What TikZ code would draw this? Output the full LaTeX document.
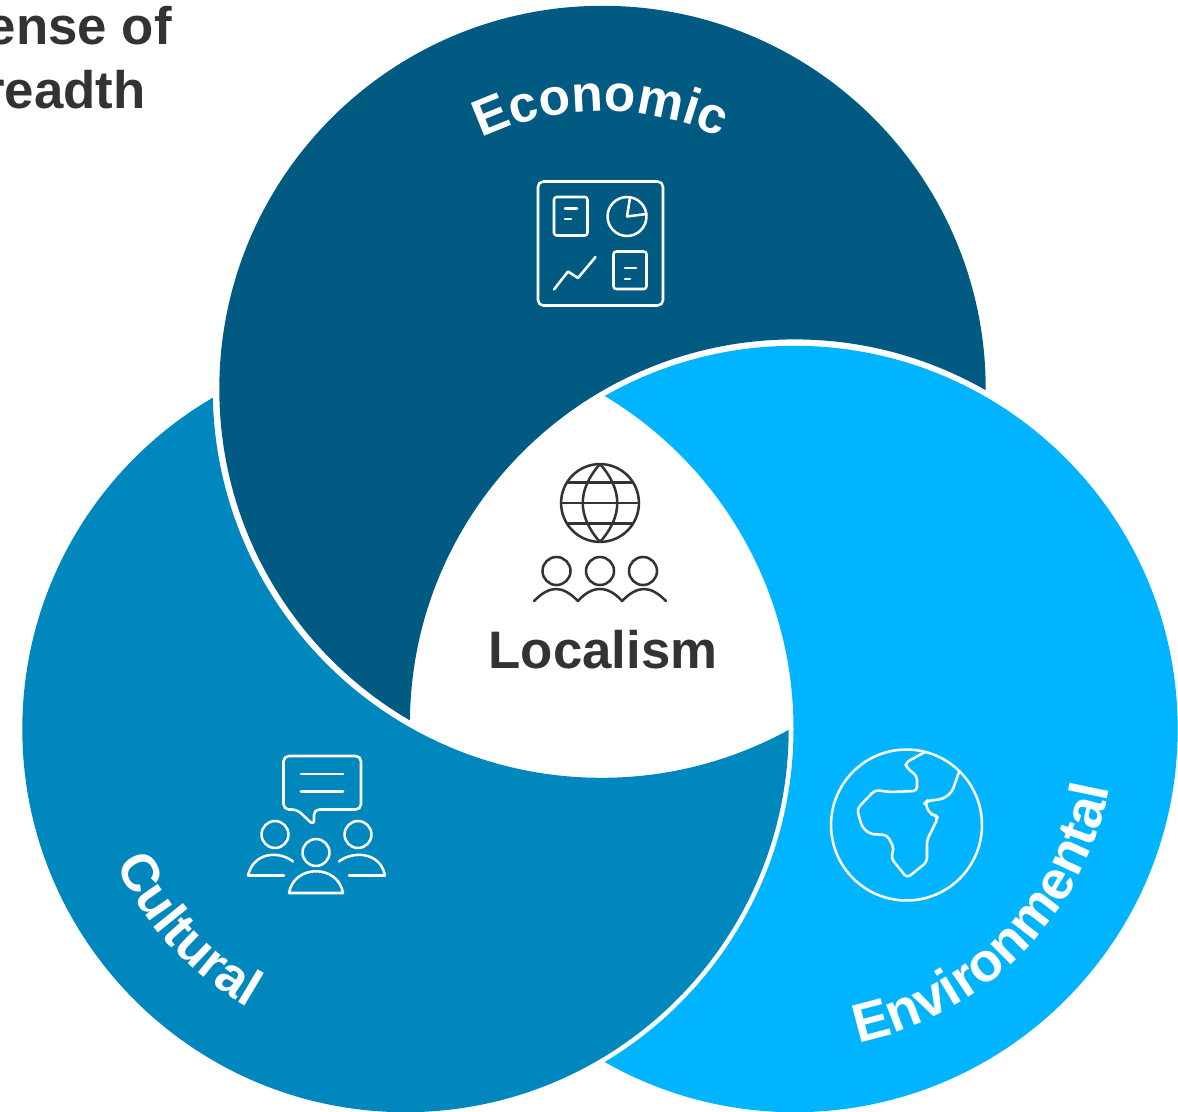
\documentclass[tikz,border=0pt]{standalone}
\usepackage{fontspec}
\setmainfont{Liberation Sans}
\usetikzlibrary{decorations.text}
\definecolor{econ}{RGB}{0,90,130}
\definecolor{cult}{RGB}{0,135,190}
\definecolor{envi}{RGB}{0,180,255}
\definecolor{ink}{RGB}{51,51,51}
\def\RR{287.4pt}
\tikzset{
 icon/.style={draw=white,line width=1.9pt,line cap=round,line join=round},
 iconk/.style={draw=ink,line width=1.9pt,line cap=round,line join=round},
 arcw/.style 2 args={decorate,decoration={text along path,text align=center,text color=white,
   text={|\fontsize{#1}{#1}\bfseries|#2}}},
 heading/.style={text=ink,font=\fontsize{39.6}{40}\bfseries,inner sep=0},
}
\begin{document}
\begin{tikzpicture}[x=.75pt,y=-.75pt]
\useasboundingbox (0,0) rectangle (1178,1112);
\coordinate (ce) at (602.5,389);
\coordinate (cc) at (405.5,729);
\coordinate (cv) at (794.5,729);
\coordinate (cvg) at (794.5,724);
\coordinate (ceg) at (601.5,389);
\begin{scope}[even odd rule]
 \clip (-10,-10) rectangle (1190,1130) (cvg) circle (288.45pt);
 \fill[econ] (ce) circle (\RR);
\end{scope}
\begin{scope}[even odd rule]
 \clip (-10,-10) rectangle (1190,1130) (ceg) circle (291.6pt);
 \fill[cult] (cc) circle (\RR);
\end{scope}
\begin{scope}[even odd rule]
 \clip (-10,-10) rectangle (1190,1130) (cc) circle (291pt);
 \fill[envi] (cv) circle (\RR);
\end{scope}
% curved labels
\begin{scope}[shift={(ce)},x=1pt,y=1pt]
 \path[arcw={38.6}{Economic}] (130.3:208.5pt) arc[start angle=130.3,end angle=50.3,radius=208.5pt];
\end{scope}
\begin{scope}[shift={(cc)},x=1pt,y=1pt]
 \path[arcw={39.4}{Cultural}] (192.8:240pt) arc[start angle=192.8,end angle=252.8,radius=240pt];
\end{scope}
\begin{scope}[shift={(cv)},x=1pt,y=1pt]
 \path[arcw={41}{Environmental}] (270:240pt) arc[start angle=270,end angle=361,radius=240pt];
\end{scope}
% heading
\node[heading,anchor=base east] (h1) at (172,45) {ense of};
\node[heading,anchor=base east] (h2) at (146,109) {readth};
\node[heading,anchor=base] (loc) at (603,668) {Localism};
% economic icon
\draw[icon,rounded corners=4pt] (538,181.5) rectangle (663,305.5);
\draw[icon,rounded corners=2pt] (554,197) rectangle (587.5,235.5);
\draw[icon] (565,208.5) -- (577,208.5) (565,219) -- (571,219);
\draw[icon] (627,216.5) circle (14.6pt);
\draw[icon] (630,197.5) -- (627,216.5) -- (646.5,214);
\draw[icon] (554,289.5) -- (568,271.5) -- (578,278) -- (595.5,257);
\draw[icon,rounded corners=2pt] (613.5,251.5) rectangle (646.5,289);
\draw[icon] (625,268) -- (636,268) (625,279) -- (630,279);
% localism icon
\draw[iconk] (600,503) circle (29.2pt);
\draw[iconk] (600,464) .. controls (577,490) and (577,516) .. (600,542);
\draw[iconk] (600,464) .. controls (623,490) and (623,516) .. (600,542);
\draw[iconk] (568,482.5) -- (632,482.5) (561,503) -- (639,503) (568,523.5) -- (632,523.5);
\draw[iconk] (556.5,571) circle (10.5pt) (600,571) circle (10.5pt) (643,571) circle (10.5pt);
\draw[iconk] (534,601) .. controls (550,585) and (562,585) .. (578,601)
 .. controls (592,585) and (608,585) .. (622,601)
 .. controls (638,585) and (650,585) .. (666,601);
% cultural icon
\draw[icon,rounded corners=4pt] (283.5,756) -- (361,756) -- (361,809.5) -- (314,809.5) -- (314,825.5) -- (297,809.5) -- (283.5,809.5) -- cycle;
\draw[icon] (301,774) -- (343,774) (301,791.5) -- (343,791.5);
\draw[icon] (275,834.5) circle (10.1pt) (316,852.5) circle (10.1pt) (358,834.5) circle (10.1pt);
\draw[icon] (293,861.5) .. controls (280,851) and (254,851) .. (248,875.5) -- (284,875.5);
\draw[icon] (339,861.5) .. controls (352,851) and (380,851) .. (385,875.5) -- (349,875.5);
\draw[icon] (289,893) .. controls (294,864) and (338,864) .. (343,893) -- cycle;
% environmental icon
\draw[icon] (906.5,825) circle (56.6pt);
\draw[icon,rounded corners=3pt] (925,752) -- (905,763) -- (907,768) -- (917,776) -- (917,791) -- (890,792) -- (875,790) -- (857,809) -- (862,827) -- (870,834) -- (887,835) -- (894,848) -- (891,858) -- (907,878) -- (927,862) -- (927,840) -- (938,818) -- (935,815) -- (930,814) -- (925,803) -- (927,801) -- (943,799) -- (952,792) -- (959,772);
\end{tikzpicture}
\end{document}
